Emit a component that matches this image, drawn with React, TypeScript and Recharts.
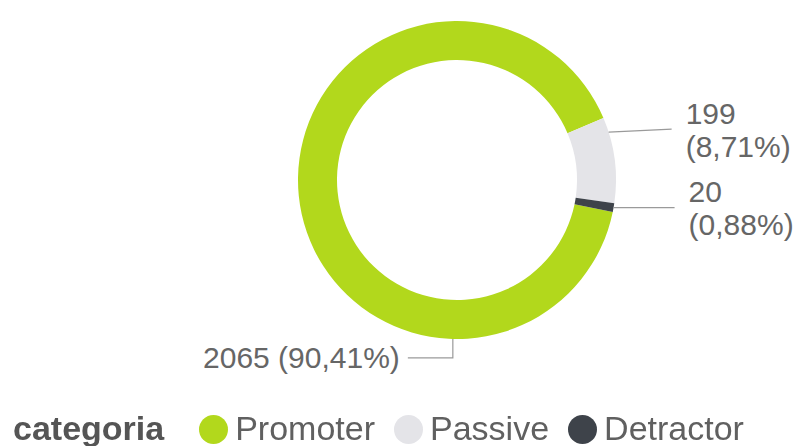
import { Cell, Legend, Pie, PieChart } from 'recharts'

const categories = ['Promoter', 'Passive', 'Detractor']
const counts = [2065, 199, 20]
const colors = ['#B2D81C', '#E4E4E8', '#3E434A']

const total = counts.reduce((sum, v) => sum + v, 0)

const data = categories.map((name, i) => ({ name, value: counts[i] }))

// where each label hooks onto the ring (degrees, recharts convention) and how its leader runs
const labelLayout: Record<string, { angle: number; side: 'left' | 'right'; reach: number; drop: number }> = {
  Promoter: { angle: -91.5, side: 'left', reach: 45, drop: 19 },
  Passive: { angle: 17.5, side: 'right', reach: 63, drop: -3 },
  Detractor: { angle: -10, side: 'right', reach: 61, drop: 0 },
}

const RADIAN = Math.PI / 180
const labelColor = '#666666'

function pct(value: number) {
  return `${((value / total) * 100).toFixed(2).replace('.', ',')}%`
}

function renderLabel(props: any) {
  const { cx, cy, outerRadius, name, value } = props
  const l = labelLayout[name]
  if (!l) return null
  const sx = cx + outerRadius * Math.cos(-l.angle * RADIAN)
  const sy = cy + outerRadius * Math.sin(-l.angle * RADIAN)

  if (l.side === 'left') {
    const ey = sy + l.drop
    const ex = sx - l.reach
    return (
      <g>
        <polyline points={`${sx},${sy} ${sx},${ey} ${ex},${ey}`} fill="none" stroke="#9a9a9a" strokeWidth={1.2} />
        <text x={ex - 8} y={ey} textAnchor="end" dominantBaseline="central" fill={labelColor} fontSize={30}>
          {`${value} (${pct(value)})`}
        </text>
      </g>
    )
  }

  const ex = sx + l.reach
  const ey = sy + l.drop
  return (
    <g>
      <line x1={sx} y1={sy} x2={ex} y2={ey} stroke="#9a9a9a" strokeWidth={1.2} />
      <text x={ex + 14} y={ey - 16} dominantBaseline="central" fill={labelColor} fontSize={30}>
        {value}
      </text>
      <text x={ex + 14} y={ey + 17} dominantBaseline="central" fill={labelColor} fontSize={30}>
        {`(${pct(value)})`}
      </text>
    </g>
  )
}

function renderLegend() {
  return (
    <div
      style={{
        display: 'flex',
        alignItems: 'center',
        fontFamily: '"Liberation Sans", Arial, sans-serif',
        fontSize: 34,
        lineHeight: '34px',
        color: '#606060',
        paddingLeft: 13,
      }}
    >
      <span style={{ fontWeight: 'bold', marginRight: 35, color: '#555555' }}>categoria</span>
      {categories.map((name, i) => (
        <span key={name} style={{ display: 'flex', alignItems: 'center', marginRight: 19 }}>
          <span
            style={{
              width: 29,
              height: 29,
              borderRadius: '50%',
              background: colors[i],
              marginRight: 7,
              position: 'relative',
              top: 1,
            }}
          />
          {name}
        </span>
      ))}
    </div>
  )
}

export default function App() {
  return (
    <div style={{ position: 'fixed', left: 0, top: 0, width: 796, height: 446, background: '#fff' }}>
      <PieChart width={796} height={446} style={{ fontFamily: '"Liberation Sans", Arial, sans-serif' }}>
        <Pie
          data={data}
          dataKey="value"
          nameKey="name"
          cx={452}
          cy={175}
          innerRadius={120}
          outerRadius={159}
          startAngle={-11.6}
          endAngle={-371.6}
          stroke="none"
          label={renderLabel}
          labelLine={false}
          isAnimationActive={false}
        >
          {data.map((d, i) => (
            <Cell key={d.name} fill={colors[i]} />
          ))}
        </Pie>
        <Legend
          content={renderLegend}
          wrapperStyle={{ position: 'absolute', left: 0, top: 411, width: 796 }}
        />
      </PieChart>
    </div>
  )
}
